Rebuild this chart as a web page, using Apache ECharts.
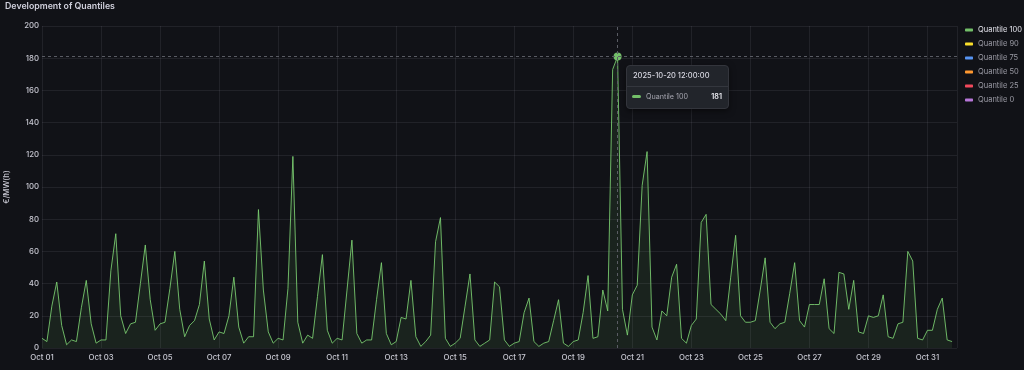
<!DOCTYPE html>
<html>
<head>
<meta charset="utf-8">
<script src="https://cdn.jsdelivr.net/npm/echarts@6/dist/echarts.min.js"></script>
<style>
  html, body { margin: 0; padding: 0; background: #111217; }
  #chart { width: 1024px; height: 370px; }
</style>
</head>
<body>
<div id="chart"></div>
<script>
// ---- data ----
const titleText = 'Development of Quantiles';
const yAxisName = '€/MW(h)';
const startUTC = Date.UTC(2025, 9, 1, 0, 0, 0); // 2025-10-01 00:00
const stepHours = 4;
const spanHours = 31 * 24;           // Oct 01 .. Nov 01
const tickHours = 48;                // label every 2 days
const monthNames = ['Jan','Feb','Mar','Apr','May','Jun','Jul','Aug','Sep','Oct','Nov','Dec'];

const seriesNames = ['Quantile 100', 'Quantile 90', 'Quantile 75', 'Quantile 50', 'Quantile 25', 'Quantile 0'];
const seriesColors = ['#73BF69', '#FADE2A', '#5794F2', '#FF9830', '#F2495C', '#B877D9'];

// Quantile 100, one value every 4 hours
const quantile100 = [
  6, 4, 26, 41, 14, 2,
  5, 4, 25, 42, 15, 3,
  5, 5, 48, 71, 20, 9,
  15, 16, 40, 64, 30, 11,
  15, 16, 37, 60, 24, 7,
  14, 17, 27, 54, 18, 5,
  10, 9, 20, 44, 13, 3,
  7, 7, 86, 36, 10, 3,
  6, 5, 37, 119, 16, 3,
  8, 6, 32, 58, 11, 3,
  6, 5, 36, 67, 9, 3,
  5, 5, 30, 53, 9, 2,
  4, 19, 18, 42, 7, 1,
  4, 8, 66, 81, 6, 1,
  3, 6, 26, 46, 5, 1,
  3, 5, 41, 38, 5, 1,
  3, 4, 22, 31, 4, 1,
  3, 4, 17, 30, 3, 1,
  4, 5, 22, 45, 6, 7,
  36, 23, 173, 181, 24, 8,
  33, 39, 101, 122, 13, 5,
  23, 20, 44, 52, 6, 3,
  14, 18, 78, 83, 27, 24,
  21, 17, 44, 70, 20, 16,
  16, 17, 36, 56, 16, 12,
  15, 16, 34, 53, 17, 13,
  27, 27, 27, 43, 12, 9,
  47, 46, 24, 42, 10, 9,
  20, 19, 20, 33, 7, 6,
  15, 16, 60, 54, 6, 5,
  11, 11, 24, 31, 5, 4
];
// other quantiles have no data shown
const quantile90 = [];
const quantile75 = [];
const quantile50 = [];
const quantile25 = [];
const quantile0 = [];
const allSeriesData = [quantile100, quantile90, quantile75, quantile50, quantile25, quantile0];

// ---- helpers ----
const pad = n => (n < 10 ? '0' : '') + n;
function hourToDate(h) { return new Date(startUTC + h * 3600000); }
function fmtAxis(h) {
  const d = hourToDate(h);
  return monthNames[d.getUTCMonth()] + ' ' + pad(d.getUTCDate());
}
function fmtFull(h) {
  const d = hourToDate(h);
  return d.getUTCFullYear() + '-' + pad(d.getUTCMonth() + 1) + '-' + pad(d.getUTCDate()) + ' ' +
    pad(d.getUTCHours()) + ':' + pad(d.getUTCMinutes()) + ':' + pad(d.getUTCSeconds());
}

const FONT = 'Inter, "Noto Sans", sans-serif';
const chart = echarts.init(document.getElementById('chart'), null, { renderer: 'canvas' });

const series = seriesNames.map((name, k) => ({
  name: name,
  type: 'line',
  data: allSeriesData[k].map((v, i) => [i * stepHours, v]),
  color: seriesColors[k],
  showSymbol: false,
  symbol: 'circle',
  symbolSize: 8,
  lineStyle: { width: 1, color: seriesColors[k], opacity: 0.85 },
  itemStyle: { color: seriesColors[k] },
  areaStyle: { color: seriesColors[k], opacity: 0.09 },
  emphasis: { disabled: false, scale: false, focus: 'none', lineStyle: { width: 1 } },
  animation: false
}));

chart.setOption({
  backgroundColor: '#111217',
  animation: false,
  textStyle: { fontFamily: FONT },
  title: {
    text: titleText,
    left: 5, top: 2,
    padding: 0,
    textStyle: { color: '#d0d0dc', fontSize: 8.8, fontWeight: 600, fontFamily: FONT }
  },
  legend: {
    orient: 'vertical',
    left: 965, top: 25,
    padding: 0,
    itemGap: 4,
    itemWidth: 8, itemHeight: 3,
    icon: 'roundRect',
    selectedMode: false,
    textStyle: { fontSize: 7.5, lineHeight: 10, color: '#9c9ca6', fontFamily: FONT },
    data: seriesNames.map((n, k) => ({
      name: n,
      textStyle: { color: k === 0 ? '#e4e4ec' : '#9c9ca6' }
    }))
  },
  grid: { left: 42, right: 67, top: 26, bottom: 22, outerBoundsMode: 'none', containLabel: false },
  xAxis: {
    type: 'value',
    min: 0, max: spanHours, interval: tickHours,
    axisLine: { show: false },
    axisTick: { show: false },
    splitLine: { show: true, lineStyle: { color: 'rgba(204,204,220,0.09)', width: 1 } },
    axisLabel: {
      color: '#c8c8d2', fontSize: 7.8, margin: 6, fontFamily: FONT, fontWeight: 500,
      showMaxLabel: false,
      alignMinLabel: 'center',
      formatter: v => fmtAxis(v)
    }
  },
  yAxis: {
    type: 'value',
    min: 0, max: 200, interval: 20,
    name: yAxisName,
    nameLocation: 'middle',
    nameGap: 31,
    nameRotate: 90,
    nameTextStyle: { color: '#c8c8d2', fontSize: 7.8, fontFamily: FONT, fontWeight: 500 },
    axisLine: { show: false },
    axisTick: { show: false },
    splitLine: { show: true, lineStyle: { color: 'rgba(204,204,220,0.09)', width: 1 } },
    axisLabel: { color: '#c8c8d2', fontSize: 7.8, margin: 3, fontFamily: FONT, fontWeight: 500 }
  },
  tooltip: {
    trigger: 'axis',
    triggerOn: 'none',
    alwaysShowContent: true,
    transitionDuration: 0,
    padding: 0,
    backgroundColor: '#22252b',
    borderColor: '#33353c',
    borderWidth: 1,
    borderRadius: 4,
    extraCssText: 'box-shadow: 0 2px 6px rgba(0,0,0,0.5);',
    position: function (point) { return [point[0] + 8, point[1] + 8]; },
    axisPointer: {
      type: 'cross',
      snap: false,
      label: { show: false },
      crossStyle: { color: '#5a5c64', type: [3, 3], width: 1 },
      lineStyle: { color: '#5a5c64', type: [3, 3], width: 1 }
    },
    formatter: function (params) {
      const p = params.filter(q => q.value !== undefined && q.value !== null)[0];
      if (!p) return '';
      const h = p.value[0], v = p.value[1];
      return '<div style="width:101px;font-family:Inter,sans-serif;line-height:1;">' +
        '<div style="padding:6px 6px 6px 6px;font-size:7.5px;font-weight:500;color:#d8d8e2;border-bottom:1px solid #34373e;">' + fmtFull(h) + '</div>' +
        '<div style="padding:6.5px 6px 8px 5px;display:flex;align-items:center;font-size:7.2px;">' +
          '<span style="display:inline-block;width:9px;height:3px;border-radius:2px;background:' + p.color + ';margin-right:5px;"></span>' +
          '<span style="color:#a6a6b0;flex:1;">' + p.seriesName + '</span>' +
          '<span style="color:#ececf2;font-weight:600;">' + v + '</span>' +
        '</div></div>';
    }
  },
  series: series
});

// show the tooltip at the maximum of Quantile 100
let peakIdx = 0;
quantile100.forEach((v, i) => { if (v > quantile100[peakIdx]) peakIdx = i; });
const px = chart.convertToPixel({ gridIndex: 0 }, [peakIdx * stepHours, quantile100[peakIdx]]);
chart.dispatchAction({ type: 'showTip', x: px[0], y: px[1] });
</script>
</body>
</html>
